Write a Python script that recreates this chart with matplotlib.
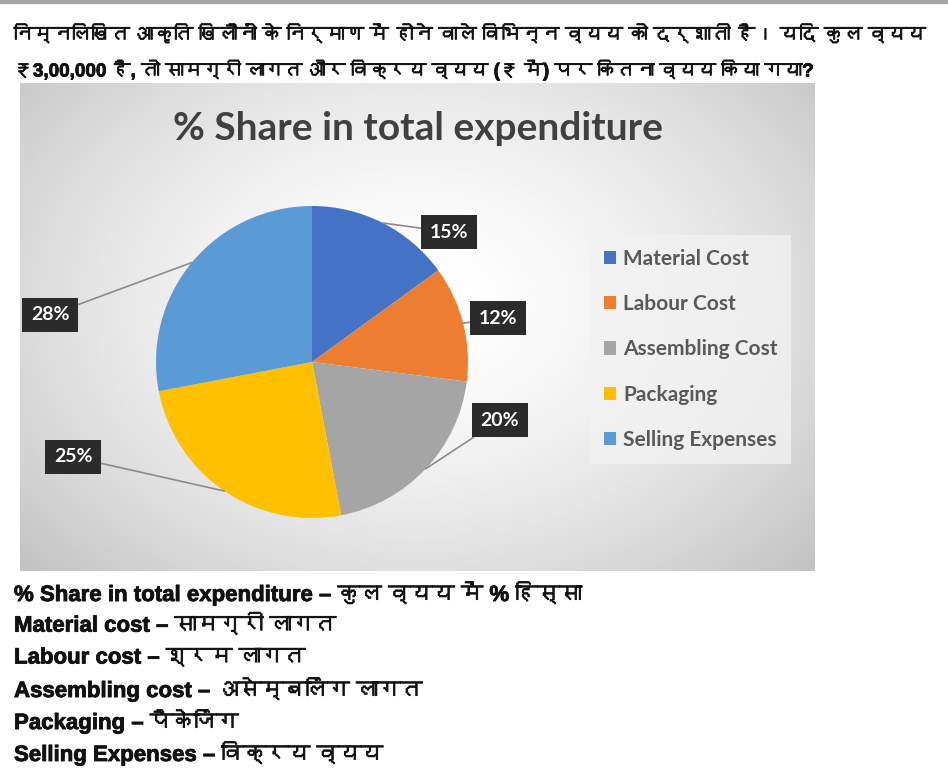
import numpy as np
import matplotlib
matplotlib.use('Agg')
import matplotlib.pyplot as plt
import matplotlib.patheffects as pe
from matplotlib import font_manager
from matplotlib.ft2font import FT2Font

# data
categories = ['Material Cost', 'Labour Cost', 'Assembling Cost', 'Packaging', 'Selling Expenses']
shares = [15, 12, 20, 25, 28]
colors = ['#4472C4', '#ED7D31', '#A5A5A5', '#FFC000', '#5B9BD5']

question = ['निम्नलिखित आकृति खिलौनों के निर्माण में होने वाले विभिन्न व्यय को दर्शाती है। यदि कुल व्यय',
            '₹3,00,000 है, तो सामग्री लागत और विक्रय व्यय (₹ में) पर कितना व्यय किया गया?']
glossary = ['% Share in total expenditure – कुल व्यय में % हिस्सा',
            'Material cost – सामग्री लागत',
            'Labour cost – श्रम लागत',
            'Assembling cost – असेम्बलिंग लागत',
            'Packaging – पैकेजिंग',
            'Selling Expenses – विक्रय व्यय']


def find_devanagari():
    seen = set()
    for f in font_manager.fontManager.ttflist:
        if f.fname in seen:
            continue
        seen.add(f.fname)
        try:
            if 0x0915 in FT2Font(f.fname).get_charmap():
                return f.name
        except Exception:
            pass
    return None


deva = find_devanagari()
fams = ['Liberation Sans'] + ([deva] if deva else []) + ['DejaVu Sans']
# the devanagari face has no bold, so thicken it a little with a stroke
heavy = [pe.withStroke(linewidth=0.6, foreground='#111111')]

W, H = 948, 780
fig = plt.figure(figsize=(W / 100, H / 100), dpi=100)
fig.patch.set_facecolor('white')
renderer = fig.canvas.get_renderer()


def fx(x):
    return x / W


def fy(y):
    return 1 - y / H


def fit_width(t, target):
    # shrink a text until it spans the wanted number of pixels
    for _ in range(3):
        w = t.get_window_extent(renderer).width
        t.set_fontsize(t.get_fontsize() * target / w)


# thin grey rule at the very top
fig.add_artist(plt.Line2D([0, 1], [fy(1.5), fy(1.5)], color='#a6a6a6', lw=3, transform=fig.transFigure))

# question text
q_widths = [910, 800]
for i, line in enumerate(question):
    t = fig.text(fx(14), fy(35 + i * 35), line, fontsize=17, fontweight='bold', family=fams,
                 color='#111111', va='center', ha='left', path_effects=heavy)
    fit_width(t, q_widths[i])

# chart background with soft radial shading
bg = fig.add_axes([fx(20), fy(571), fx(815 - 20), (571 - 83) / H])
yy, xx = np.mgrid[0:1:200j, 0:1:300j]
d = np.sqrt(((xx - 0.5) / 0.75) ** 2 + ((yy - 0.45) / 0.9) ** 2)
shade = np.clip(1 - 0.28 * d ** 1.6, 0, 1)
bg.imshow(shade, cmap='gray', vmin=0, vmax=1, extent=[0, 1, 0, 1], aspect='auto', origin='upper')
bg.set_xticks([])
bg.set_yticks([])
for s in bg.spines.values():
    s.set_visible(False)

fig.text(fx(418), fy(128), '% Share in total expenditure', fontsize=28, fontweight='bold',
         family=['Lato', 'DejaVu Sans'], color='#404040', ha='center', va='center')

# pie
cx, cy, r = 312, 362, 156
ax = fig.add_axes([fx(cx - r), fy(cy + r), 2 * r / W, 2 * r / H])
wedges, _ = ax.pie(shares, colors=colors, startangle=90, counterclock=False,
                   wedgeprops=dict(linewidth=0))
ax.set_xlim(-1, 1)
ax.set_ylim(-1, 1)
ax.set_aspect('auto')
ax.axis('off')

# label boxes (pixel positions of box centres)
label_pos = [(449, 232), (498, 318), (500, 420), (73, 457), (50, 315)]
start = 90.0
for w, val, (lx, ly) in zip(wedges, shares, label_pos):
    mid = np.deg2rad(start - val * 3.6 / 2)
    start -= val * 3.6
    ex, ey = np.cos(mid), np.sin(mid)
    tx, ty = (lx - cx) / r, -(ly - cy) / r
    ax.annotate(f'{val}%', xy=(ex, ey), xytext=(tx, ty), fontsize=14, fontweight='bold',
                family=['Lato', 'DejaVu Sans'], color='white', ha='center', va='center',
                bbox=dict(boxstyle='square,pad=0.45', fc='#2b2b2b', ec='none'),
                arrowprops=dict(arrowstyle='-', color='#8c8c8c', lw=1.2, shrinkA=0, shrinkB=0),
                annotation_clip=False)

leg = fig.legend(wedges, categories, loc='upper left', bbox_to_anchor=(fx(590), fy(235)),
                 bbox_transform=fig.transFigure, frameon=True, fancybox=False, borderaxespad=0,
                 handlelength=0.6, handleheight=0.6, handletextpad=0.35, labelspacing=1.22,
                 borderpad=0.65, prop=dict(family=['Lato', 'DejaVu Sans'], weight='bold', size=15))
leg.get_frame().set_facecolor('#f2f2f2')
leg.get_frame().set_edgecolor('none')
for t in leg.get_texts():
    t.set_color('#595959')

# glossary
for i, line in enumerate(glossary):
    fig.text(fx(14), fy(594 + i * 32), line, fontsize=16, fontweight='bold', family=fams,
             color='#111111', va='center', ha='left', path_effects=heavy)

fig.savefig('out.png', dpi=100)
